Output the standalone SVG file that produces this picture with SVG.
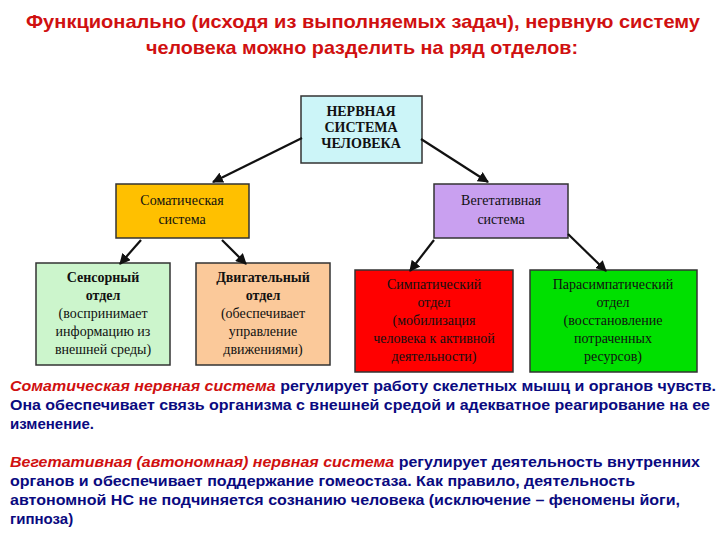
<svg xmlns="http://www.w3.org/2000/svg" width="720" height="540" viewBox="0 0 720 540">
<style>
.t{font-family:"Liberation Sans",Arial,sans-serif;font-weight:bold;fill:#0a0a80}
.h{font-size:18.5px;fill:#d01010}
.b{font-size:15px}
.r{fill:#d01010;font-style:italic}
.n{font-family:"Liberation Serif","Times New Roman",serif;font-size:14px;text-anchor:middle;fill:#111}
.box{stroke:#333;stroke-width:1.5}
.c line{stroke:#111;stroke-width:2.2;marker-end:url(#a)}
</style>
<defs><marker id="a" viewBox="0 0 10 10" refX="9" refY="5" markerWidth="5" markerHeight="5" orient="auto"><path d="M0,0L10,5L0,10z" fill="#111"/></marker></defs>
<rect width="720" height="540" fill="#fff"/>
<text class="t h" x="26" y="28" textLength="674" lengthAdjust="spacingAndGlyphs">Функционально (исходя из выполняемых задач), нервную систему</text>
<text class="t h" x="146" y="54" textLength="432" lengthAdjust="spacingAndGlyphs">человека можно разделить на ряд отделов:</text>
<g id="top"><rect class="box" x="301" y="96" width="121" height="67" fill="#ccf5f8"/>
<text class="n" x="361" y="116" font-weight="bold" font-size="13">НЕРВНАЯ</text><text class="n" x="361" y="132" font-weight="bold" font-size="13">СИСТЕМА</text><text class="n" x="361" y="148" font-weight="bold" font-size="13">ЧЕЛОВЕКА</text></g>
<g id="som"><rect class="box" x="116" y="184" width="133" height="54" fill="#ffc000"/>
<text class="n" x="182" y="205">Соматическая</text><text class="n" x="182" y="224">система</text></g>
<g id="veg"><rect class="box" x="434" y="184" width="134" height="54" fill="#c9a0f0"/>
<text class="n" x="501" y="205">Вегетативная</text><text class="n" x="501" y="224">система</text></g>
<g id="sens"><rect class="box" x="36" y="263" width="134" height="102" fill="#ccf5cc"/>
<text class="n" x="103" y="282" font-weight="bold">Сенсорный</text><text class="n" x="103" y="300" font-weight="bold">отдел</text><text class="n" x="103" y="318">(воспринимает</text><text class="n" x="103" y="336">информацию из</text><text class="n" x="103" y="354">внешней среды)</text></g>
<g id="dvig"><rect class="box" x="196" y="263" width="134" height="102" fill="#fbc99a"/>
<text class="n" x="263" y="282" font-weight="bold">Двигательный</text><text class="n" x="263" y="300" font-weight="bold">отдел</text><text class="n" x="263" y="318">(обеспечивает</text><text class="n" x="263" y="336">управление</text><text class="n" x="263" y="354">движениями)</text></g>
<g id="simp"><rect class="box" x="355" y="270" width="158" height="102" fill="#ff0000"/>
<text class="n" x="434" y="289">Симпатический</text><text class="n" x="434" y="307">отдел</text><text class="n" x="434" y="325">(мобилизация</text><text class="n" x="434" y="343">человека к активной</text><text class="n" x="434" y="361">деятельности)</text></g>
<g id="para"><rect class="box" x="530" y="270" width="167" height="102" fill="#00e000"/>
<text class="n" x="613" y="289">Парасимпатический</text><text class="n" x="613" y="307">отдел</text><text class="n" x="613" y="325">(восстановление</text><text class="n" x="613" y="343">потраченных</text><text class="n" x="613" y="361">ресурсов)</text></g>
<g class="c" id="connectors">
<line x1="302" y1="138" x2="213" y2="182"/><line x1="421" y1="139" x2="488" y2="182"/>
<line x1="141" y1="240" x2="120" y2="264"/><line x1="222" y1="240" x2="246" y2="264"/>
<line x1="434" y1="240" x2="410" y2="271"/><line x1="568" y1="234" x2="606" y2="271"/>
</g>
<text class="t b" x="10" y="391" textLength="706" lengthAdjust="spacingAndGlyphs"><tspan class="r">Соматическая нервная система</tspan> регулирует работу скелетных мышц и органов чувств.</text>
<text class="t b" x="10" y="410" textLength="700" lengthAdjust="spacingAndGlyphs">Она обеспечивает связь организма с внешней средой и адекватное реагирование на ее</text>
<text class="t b" x="10" y="429">изменение.</text>
<text class="t b" x="10" y="467" textLength="690" lengthAdjust="spacingAndGlyphs"><tspan class="r">Вегетативная (автономная) нервная система</tspan> регулирует деятельность внутренних</text>
<text class="t b" x="10" y="486" textLength="625" lengthAdjust="spacingAndGlyphs">органов и обеспечивает поддержание гомеостаза. Как правило, деятельность</text>
<text class="t b" x="10" y="505" textLength="670" lengthAdjust="spacingAndGlyphs">автономной НС не подчиняется сознанию человека (исключение – феномены йоги,</text>
<text class="t b" x="10" y="524">гипноза)</text>
</svg>
